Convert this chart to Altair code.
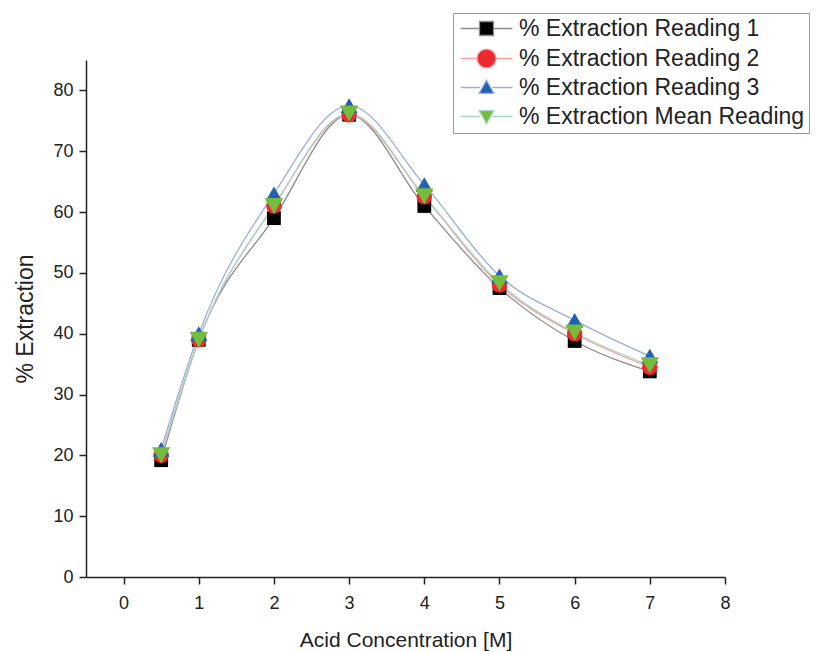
import altair as alt
import pandas as pd

# Data
conc = [0.5, 1, 2, 3, 4, 5, 6, 7]
reading1 = [19.2, 39.0, 59.0, 76.0, 61.0, 47.5, 38.8, 33.8]
reading2 = [20.0, 39.0, 61.0, 76.0, 62.5, 48.0, 40.0, 34.5]
reading3 = [21.0, 40.0, 63.0, 77.5, 64.5, 49.5, 42.2, 36.3]
mean_reading = [20.0, 39.0, 61.0, 76.2, 62.6, 48.3, 40.2, 34.8]

series_names = [
    "% Extraction Reading 1",
    "% Extraction Reading 2",
    "% Extraction Reading 3",
    "% Extraction Mean Reading",
]
series_values = [reading1, reading2, reading3, mean_reading]

marker_colors = ["#000000", "#ee2a30", "#2160b4", "#74bc3c"]
line_colors = ["#8c8c8c", "#f2a0a0", "#98aee0", "#a8d4c4"]
marker_shapes = ["square", "circle", "triangle-up", "triangle-down"]
marker_sizes = [190, 340, 210, 190]
legend_shapes = [
    "M-3.7,0H-1M1,0H3.7M-1,-1H1V1H-1Z",
    "M-3.7,0H-1.35M1.35,0H3.7M-1.35,0A1.35,1.35 0 1,0 1.35,0A1.35,1.35 0 1,0 -1.35,0Z",
    "M-3.7,0H-0.9M0.9,0H3.7M0,-1.05L1.05,0.85H-1.05Z",
    "M-3.7,0H-0.9M0.9,0H3.7M-1.05,-0.85H1.05L0,1.05Z",
]

rows = []
for name, vals in zip(series_names, series_values):
    for c, v in zip(conc, vals):
        rows.append({"conc": c, "value": v, "series": name})
df = pd.DataFrame(rows)

FONT = "Liberation Sans"
x_enc = alt.X(
    "conc:Q",
    scale=alt.Scale(domain=[-0.5, 8], nice=False, zero=False),
    axis=alt.Axis(
        title="Acid Concentration [M]",
        values=[i * 0.5 for i in range(0, 17)],
        format="d",
        labelExpr="datum.value % 1 === 0 ? format(datum.value, 'd') : ''",
        tickSize={"condition": {"test": "datum.value % 1 === 0", "value": 7}, "value": 4},
        grid=False,
        labelFontSize=18,
        titleFontSize=21,
        labelPadding=10,
        titlePadding=17,
        labelFlush=False,
    ),
)
y_enc = alt.Y(
    "value:Q",
    scale=alt.Scale(domain=[0, 85], nice=False),
    axis=alt.Axis(
        title="% Extraction",
        values=[i * 5 for i in range(0, 17)],
        labelExpr="datum.value % 10 === 0 ? datum.label : ''",
        tickSize={"condition": {"test": "datum.value % 10 === 0", "value": 7}, "value": 4},
        grid=False,
        labelFontSize=18,
        titleFontSize=23,
        labelPadding=6,
        titlePadding=15,
        labelFlush=False,
    ),
)

lines = alt.Chart(df).mark_line(interpolate="monotone", strokeWidth=1.3).encode(
    x=x_enc,
    y=y_enc,
    stroke=alt.Stroke("series:N",
                      scale=alt.Scale(domain=series_names, range=line_colors), legend=None),
    detail="series:N",
)

points = alt.Chart(df).mark_point(filled=True, opacity=1).encode(
    x="conc:Q",
    y="value:Q",
    fill=alt.Fill("series:N", scale=alt.Scale(domain=series_names, range=marker_colors), legend=None),
    shape=alt.Shape("series:N", scale=alt.Scale(domain=series_names, range=marker_shapes), legend=None),
    size=alt.Size("series:N", scale=alt.Scale(domain=series_names, range=marker_sizes), legend=None),
)

legend_cfg = alt.Legend(
    title=None,
    orient="none",
    legendX=367,
    legendY=-47,
    strokeColor="#999999",
    fillColor="#ffffff",
    padding=4,
    labelFontSize=23,
    labelFont=FONT,
    labelColor="#222222",
    labelLimit=0,
    symbolSize=196,
    symbolOpacity=1,
    symbolStrokeWidth=1.3,
    symbolOffset=18,
    labelOffset=21,
    rowPadding=5,
)

legend_layer = alt.Chart(df).mark_point(filled=True, opacity=0, strokeWidth=1.3).encode(
    x="conc:Q",
    y="value:Q",
    fill=alt.Fill("series:N", scale=alt.Scale(domain=series_names, range=marker_colors), legend=legend_cfg),
    stroke=alt.Stroke("series:N", scale=alt.Scale(domain=series_names, range=line_colors), legend=legend_cfg),
    shape=alt.Shape("series:N", scale=alt.Scale(domain=series_names, range=legend_shapes), legend=legend_cfg),
)

chart = (
    alt.layer(lines, points, legend_layer)
    .resolve_scale(fill="independent", stroke="independent", shape="independent")
    .properties(
        width=639,
        height=517,
        autosize=alt.AutoSizeParams(type="none"),
        padding={"left": 78, "top": 52, "right": 85, "bottom": 75},
    )
    .configure_view(stroke=None)
    .configure_axis(
        labelFont=FONT,
        titleFont=FONT,
        labelColor="#222222",
        titleColor="#222222",
        domainColor="#222222",
        tickColor="#222222",
        domainWidth=1.5,
        tickWidth=1.5,
        titleFontWeight="normal",
    )
)

chart.save("out.html", embed_options={"renderer": "svg", "actions": False})
